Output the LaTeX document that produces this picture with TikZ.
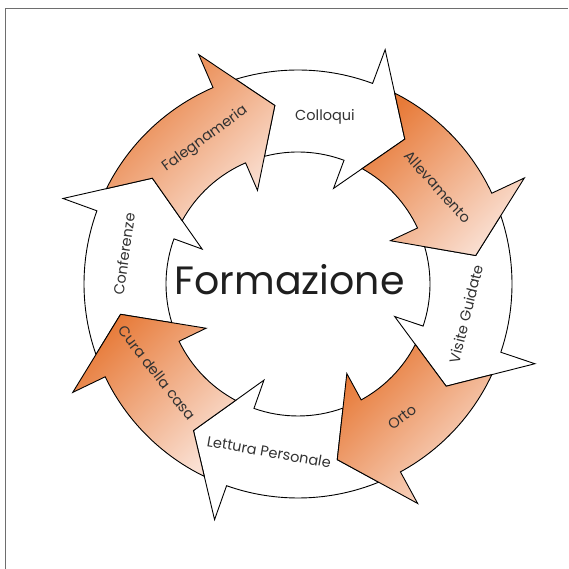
\documentclass[tikz,border=0pt]{standalone}
\usepackage{fontspec}
\setmainfont{Poppins}
\definecolor{oD}{RGB}{231,122,56}
\definecolor{oL}{RGB}{250,224,211}
\definecolor{txt}{RGB}{50,50,50}
\definecolor{framegray}{RGB}{110,110,110}
\pgfdeclarehorizontalshading{orng}{100bp}{color(0bp)=(oD); color(25bp)=(oD); color(75bp)=(oL); color(100bp)=(oL)}
\tikzset{
  ringline/.style={draw=black, line width=0.9pt, line join=miter},
  whitearrow/.style={ringline, fill=white},
  orangearrow/.style={ringline, shade, shading=orng, shading angle=-45},
  lbl/.style={font=\fontsize{14.5}{17}\selectfont, text=txt, inner sep=0pt},
  framed/.style={draw=framegray, line width=0.8pt},
}
% #1 = tip angle of this arrow, #2 = tip angle of the previous arrow (its tail notch), #3 = style
\newcommand\ringarrow[3]{%
  \path[#3] (#1:180pt) -- ({#1+16}:102pt) -- ({#1+16}:132pt)
    arc[start angle={#1+16}, end angle={#2+7.33}, radius=132pt]
    -- (#2:180pt) -- ({#2+9.54}:214pt)
    arc[start angle={#2+9.54}, end angle={#1+16}, radius=214pt]
    -- ({#1+16}:250pt) -- cycle;}
\begin{document}
\begin{tikzpicture}[x=1pt,y=1pt]
\useasboundingbox (0,0) rectangle (568,569);
\draw[framed] (5,0) -- (5,561) -- (568,561);
\begin{scope}[shift={(298,285)}]
  \ringarrow{53.6}{97.4}{whitearrow}
  \ringarrow{-34.6}{9.1}{whitearrow}
  \ringarrow{-125.5}{-77.4}{whitearrow}
  \ringarrow{-216}{-170.3}{whitearrow}
  \ringarrow{97.4}{144}{orangearrow}
  \ringarrow{9.1}{53.6}{orangearrow}
  \ringarrow{-77.4}{-34.6}{orangearrow}
  \ringarrow{-170.3}{-125.5}{orangearrow}
\end{scope}
\node[lbl, rotate=36] (fal) at (205,430) {Falegnameria};
\node[lbl] (col) at (325,452) {Colloqui};
\node[lbl, rotate=-48] (all) at (438,382) {Allevamento};
\node[lbl, rotate=76] (vis) at (466,255) {Visite Guidate};
\node[lbl, rotate=37] (ort) at (402,152) {Orto};
\node[lbl, rotate=-10] (let) at (269,117) {Lettura Personale};
\node[lbl, rotate=-52] (cur) at (157,196) {Cura della casa};
\node[lbl, rotate=82] (con) at (124,315) {Conferenze};
\node[font=\fontsize{39.5}{46}\selectfont, text=black!88, inner sep=0pt, anchor=base] (title) at (289.5,274) {Formazione};
\end{tikzpicture}
\end{document}
